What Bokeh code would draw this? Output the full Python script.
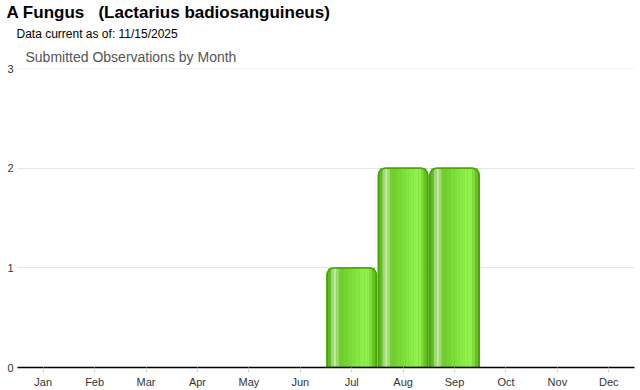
from bokeh.plotting import figure
from bokeh.models import ColumnDataSource, FactorRange, Title
from bokeh.transform import dodge
from bokeh.embed import file_html
from bokeh.resources import INLINE

months = ["Jan", "Feb", "Mar", "Apr", "May", "Jun", "Jul", "Aug", "Sep", "Oct", "Nov", "Dec"]
counts = [0, 0, 0, 0, 0, 0, 1, 2, 2, 0, 0, 0]
y_ticks = [0, 1, 2, 3]

title_text = "A Fungus\u00a0\u00a0\u00a0(Lactarius badiosanguineus)"
subtitle_text = "Data current as of: 11/15/2025"
chart_title = "Submitted Observations by Month"

nz = [i for i, c in enumerate(counts) if c > 0]
src = ColumnDataSource(dict(month=[months[i] for i in nz], count=[counts[i] for i in nz]))

p = figure(width=640, height=390, x_range=FactorRange(*months), y_range=(0, 3.002),
           output_backend="svg", toolbar_location=None,
           min_border_left=17, min_border_right=6, min_border_top=0, min_border_bottom=23,
           title=None)
p.x_range.range_padding = 0
p.outline_line_color = None

p.add_layout(Title(text=chart_title, text_font="Liberation Sans", text_font_size="14px",
                   text_font_style="normal", text_color="#555555", offset=8, standoff=7), "above")
p.add_layout(Title(text=subtitle_text, text_font="Liberation Sans", text_font_size="12px",
                   text_font_style="normal", text_color="black", offset=-1, standoff=6), "above")
p.add_layout(Title(text=title_text, text_font="Liberation Sans", text_font_size="17px",
                   text_font_style="bold", text_color="black", offset=-11, standoff=0), "above")
p.add_layout(Title(text="", text_font_size="1px", standoff=3), "above")

# axes
p.yaxis.ticker = y_ticks
p.yaxis.axis_line_color = None
p.yaxis.major_tick_line_color = None
p.yaxis.major_tick_out = 0
p.yaxis.major_tick_in = 0
p.yaxis.minor_tick_line_color = None
p.yaxis.major_label_text_font = "Liberation Sans"
p.yaxis.major_label_text_font_size = "11px"
p.yaxis.major_label_text_color = "#333333"
p.yaxis.major_label_standoff = 4

p.xaxis.axis_line_color = "black"
p.xaxis.axis_line_width = 1.5
p.xaxis.major_tick_line_color = "#d0d0d0"
p.xaxis.major_tick_in = 0
p.xaxis.major_tick_out = 5
p.xaxis.major_label_text_font = "Liberation Sans"
p.xaxis.major_label_text_font_size = "11px"
p.xaxis.major_label_text_color = "#333333"
p.xaxis.major_label_standoff = 3

p.xgrid.grid_line_color = None
p.ygrid.grid_line_color = "#e6e6e6"
p.ygrid.ticker = y_ticks

# bars: outer body with rounded top
p.vbar(x="month", top="count", width=0.96, source=src, fill_color="#5cb81a",
       line_color="#4da40c", line_width=1.5, border_radius=[7, 7, 0, 0])

# horizontal gradient approximated by narrow strips
strip_colors = ["#62bd1f", "#9fd87a", "#c2e8a4", "#9fdb6e", "#74cf33", "#70d02e",
                "#74d431", "#78d835", "#7cdc39", "#80e03d", "#85e541", "#89e944",
                "#8ded48", "#90f04b", "#92f24d", "#8fee4a", "#7fdc3c", "#65c322"]
n = len(strip_colors)
inner = 0.90
sw = inner / n
for i, c in enumerate(strip_colors):
    off = -inner / 2 + sw * (i + 0.5)
    p.vbar(x=dodge("month", off, range=p.x_range), top="count", width=sw * 1.05,
           source=src, fill_color=c, line_color=None)
p.vbar(x="month", top="count", width=0.96, source=src, fill_color=None,
       line_color="#4da40c", line_width=1.5, border_radius=[7, 7, 0, 0])

out = file_html(p, INLINE)
open("out.html", "w").write(out)
